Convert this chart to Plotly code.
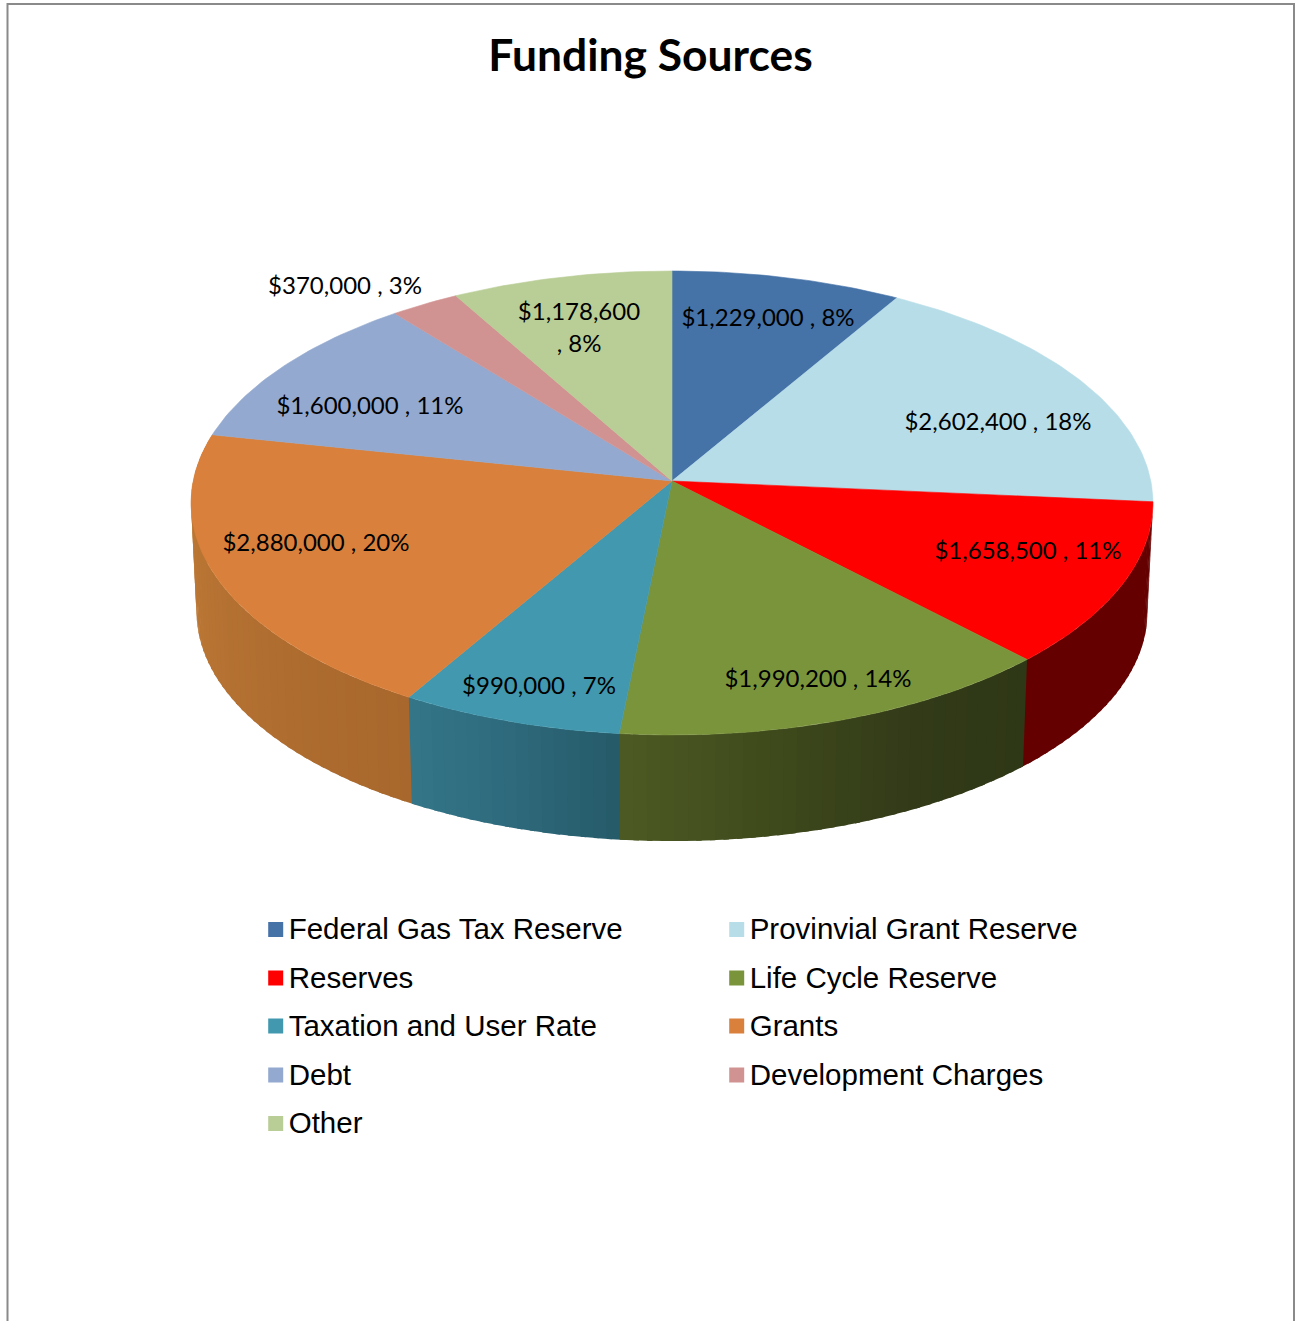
import math
import plotly.graph_objects as go

# Funding data
categories = ["Federal Gas Tax Reserve", "Provinvial Grant Reserve", "Reserves", "Life Cycle Reserve",
              "Taxation and User Rate", "Grants", "Debt", "Development Charges", "Other"]
amounts = [1229000, 2602400, 1658500, 1990200, 990000, 2880000, 1600000, 370000, 1178600]

# Styling per slice
top_colors = ["#4572A7", "#B7DDE8", "#FF0000", "#7A943B", "#4198AF", "#D9813C", "#93A9CF", "#D19392", "#B9CD96"]
wall_shades = {
    2: ["#650000", "#650000"],
    3: ["#2F3816", "#323A18", "#3F4A1C", "#4D5A22"],
    4: ["#265A68", "#2E6A7C", "#347689"],
    5: ["#A8672C", "#B06E30", "#BA7634", "#C27D39"],
}
label_centers = [(768, 320), (998, 424), (1028, 553), (818, 681), (539, 688),
                 (316, 545), (370, 408), (345, 288), (579, 330)]
label_breaks = {8}
legend_columns = (275.7, 736.7)
legend_rows = (929.5, 978, 1026, 1075, 1123.5)

# Perspective disc: a circle seen through a homography, apex at (CX, TOP_Y)
CX, TOP_Y, BOTTOM_Y = 672.0, 481.0, 590.0
A, B, K = 478.8, 229.9, 0.0948
BOTTOM_SCALE = 0.9886


def project(deg, apex_y=TOP_Y, scale=1.0):
    t = math.radians(deg)
    u, v = math.sin(t), -math.cos(t)
    d = 1 - K * v
    return CX + scale * A * u / d, apex_y + scale * B * v / d


def arc(a0, a1, step, apex_y=TOP_Y, scale=1.0):
    n = max(1, int(math.ceil((a1 - a0) / step)))
    return [project(a0 + (a1 - a0) * i / n, apex_y, scale) for i in range(n + 1)]


def to_rgb(h):
    return tuple(int(h[i:i + 2], 16) for i in (1, 3, 5))


def shade_at(stops, f):
    p = f * (len(stops) - 1)
    i = min(int(p), len(stops) - 2)
    a, b = to_rgb(stops[i]), to_rgb(stops[i + 1])
    w = p - i
    return "rgb(%d,%d,%d)" % tuple(round(a[k] + (b[k] - a[k]) * w) for k in range(3))


total = sum(amounts)
edges = [0.0]
for value in amounts:
    edges.append(edges[-1] + 360.0 * value / total)

fig = go.Figure()

# Side wall strips, painted from the sides towards the front; each one runs
# slightly under its frontward neighbour so no hairline shows between them
strips = []
for idx, stops in wall_shades.items():
    a0, a1 = edges[idx], edges[idx + 1]
    n = max(1, int(math.ceil((a1 - a0) / 1.5)))
    for i in range(n):
        s0 = a0 + (a1 - a0) * i / n
        s1 = a0 + (a1 - a0) * (i + 1) / n
        strips.append((abs((s0 + s1) / 2 - 180), s0, s1, shade_at(stops, (i + 0.5) / n)))
for _, s0, s1, color in sorted(strips, key=lambda r: -r[0]):
    if s1 <= 180:
        s1 += 0.6
    elif s0 >= 180:
        s0 -= 0.6
    p = arc(s0, s1, 0.5) + arc(s0, s1, 0.5, BOTTOM_Y, BOTTOM_SCALE)[::-1]
    p.append(p[0])
    fig.add_trace(go.Scatter(x=[q[0] for q in p], y=[q[1] for q in p], mode="lines", fill="toself",
                             fillcolor=color, line=dict(width=0),
                             hoverinfo="skip", showlegend=False))

# Top faces
for i, name in enumerate(categories):
    pts = [(CX, TOP_Y)] + arc(edges[i], edges[i + 1], 1.0) + [(CX, TOP_Y)]
    fig.add_trace(go.Scatter(x=[q[0] for q in pts], y=[q[1] for q in pts], mode="lines", fill="toself",
                             fillcolor=top_colors[i], line=dict(color=top_colors[i], width=0.6),
                             name=name, hoverinfo="skip", showlegend=False))

# Value labels
label_font = dict(family="Lato", size=24, color="#000000")
for i, value in enumerate(amounts):
    pct = round(100 * value / total)
    sep = "<br>, " if i in label_breaks else " , "
    fig.add_trace(go.Scatter(x=[label_centers[i][0]], y=[label_centers[i][1]], mode="text",
                             text=[f"${value:,}{sep}{pct}%"], textposition="middle center",
                             textfont=label_font, hoverinfo="skip", showlegend=False))

# Key: five rows in two columns, swatch and caption drawn side by side
for i, name in enumerate(categories):
    col, row = i % 2, i // 2
    fig.add_trace(go.Scatter(x=[legend_columns[col]], y=[legend_rows[row]], mode="markers",
                             marker=dict(symbol="square", size=15, color=top_colors[i], line=dict(width=0)),
                             hoverinfo="skip", showlegend=False))
    fig.add_trace(go.Scatter(x=[legend_columns[col] + 13], y=[legend_rows[row] + 2.5], mode="text",
                             text=[name], textposition="middle right",
                             textfont=dict(family="Liberation Sans", size=29.5, color="#000000"),
                             hoverinfo="skip", showlegend=False))

fig.update_layout(
    width=1297, height=1321, autosize=False,
    margin=dict(l=0, r=0, t=0, b=0),
    paper_bgcolor="#FFFFFF", plot_bgcolor="#FFFFFF",
    title=dict(text="<b>Funding Sources</b>", x=650.5 / 1297, y=1 - 55 / 1321,
               xanchor="center", yanchor="middle",
               font=dict(family="Lato", size=44.4, color="#000000")),
    xaxis=dict(range=[0, 1297], visible=False, fixedrange=True),
    yaxis=dict(range=[1321, 0], visible=False, fixedrange=True),
    shapes=[dict(type="path", path="M 7.5 1321 L 7.5 4 L 1294 4 L 1294 1321",
                 line=dict(color="#8A8A8A", width=2), layer="below")],
)

fig.write_html("out.html")
